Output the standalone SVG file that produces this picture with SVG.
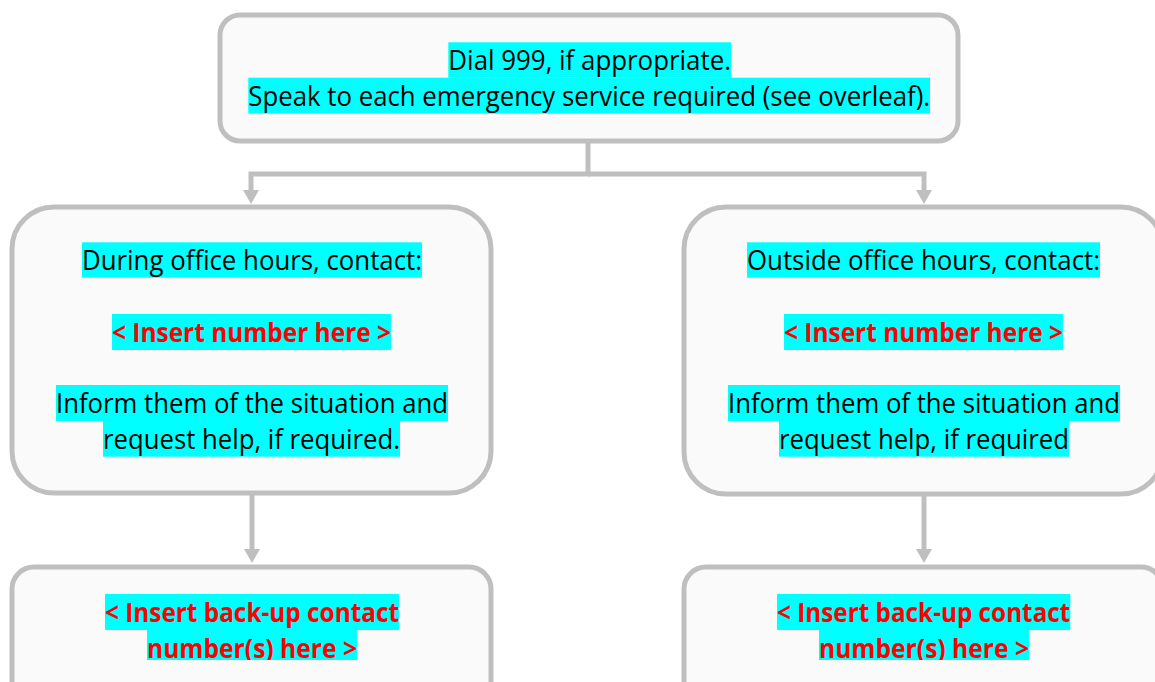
<svg xmlns="http://www.w3.org/2000/svg" width="1155" height="682" viewBox="0 0 1155 682">
<style>
.box{fill:#FAFAFA;stroke:#BFBFBF;stroke-width:5}
.hl{fill:#00FFFF}
.t{font-family:"Open Sans","Liberation Sans",sans-serif;font-size:27px;fill:#000;text-anchor:middle}
.r{font-family:"Open Sans","Liberation Sans",sans-serif;font-size:27px;font-weight:bold;fill:#FF0000;text-anchor:middle}
.conn{fill:none;stroke:#BFBFBF;stroke-width:5;stroke-linejoin:miter}
</style>
<defs>
<marker id="arr" viewBox="0 0 14 16" refX="2" refY="8" markerWidth="14" markerHeight="16" orient="auto" markerUnits="userSpaceOnUse">
<path d="M0,0 L14,8 L0,16 z" fill="#BFBFBF"/>
</marker>
<clipPath id="clipB"><rect x="0" y="0" width="1155" height="660"/></clipPath>
</defs>
<rect width="1155" height="682" fill="#FFFFFF"/>

<g id="connectors">
<path class="conn" d="M588,141 V174 H251 V192" marker-end="url(#arr)"/>
<path class="conn" d="M588,174 H924 V192" marker-end="url(#arr)"/>
<path class="conn" d="M252,493 V551" marker-end="url(#arr)"/>
<path class="conn" d="M924,494 V551" marker-end="url(#arr)"/>
</g>

<g id="top">
<rect class="box" x="220" y="15" width="738" height="126" rx="20" ry="20"/>
<rect class="hl" x="448.3" y="42.3" width="282.7" height="35.4"/>
<rect class="hl" x="248.3" y="77.7" width="681.7" height="36"/>
<text class="t" x="589.7" y="70.2" textLength="282.7" lengthAdjust="spacingAndGlyphs">Dial 999, if appropriate.</text>
<text class="t" x="589.2" y="105.6" textLength="681.7" lengthAdjust="spacingAndGlyphs">Speak to each emergency service required (see overleaf).</text>
</g>

<g id="during">
<rect class="box" x="12" y="207" width="479" height="286" rx="42" ry="42"/>
<rect class="hl" x="82" y="242.3" width="340" height="35.4"/>
<rect class="hl" x="112" y="314" width="279" height="36"/>
<rect class="hl" x="56" y="385" width="392" height="36"/>
<rect class="hl" x="103" y="421" width="297" height="35.7"/>
<text class="t" x="252" y="270.2" textLength="340" lengthAdjust="spacingAndGlyphs">During office hours, contact:</text>
<text class="r" x="251.5" y="341.9" textLength="279" lengthAdjust="spacingAndGlyphs">&lt; Insert number here &gt;</text>
<text class="t" x="252" y="412.9" textLength="392" lengthAdjust="spacingAndGlyphs">Inform them of the situation and</text>
<text class="t" x="251.5" y="448.9" textLength="297" lengthAdjust="spacingAndGlyphs">request help, if required.</text>
</g>

<g id="outside">
<rect class="box" x="684" y="207" width="479" height="287" rx="42" ry="42"/>
<rect class="hl" x="747" y="242.3" width="353" height="35.4"/>
<rect class="hl" x="784" y="314" width="279" height="36"/>
<rect class="hl" x="728" y="385" width="392" height="36"/>
<rect class="hl" x="779" y="421" width="290" height="35.7"/>
<text class="t" x="923.5" y="270.2" textLength="353" lengthAdjust="spacingAndGlyphs">Outside office hours, contact:</text>
<text class="r" x="923.5" y="341.9" textLength="279" lengthAdjust="spacingAndGlyphs">&lt; Insert number here &gt;</text>
<text class="t" x="924" y="412.9" textLength="392" lengthAdjust="spacingAndGlyphs">Inform them of the situation and</text>
<text class="t" x="924" y="448.9" textLength="290" lengthAdjust="spacingAndGlyphs">request help, if required</text>
</g>

<g id="backup-left">
<rect class="box" x="12" y="567" width="479" height="150" rx="22" ry="22"/>
<g clip-path="url(#clipB)">
<rect class="hl" x="105" y="594" width="294" height="36"/>
<rect class="hl" x="147" y="630" width="210" height="36"/>
<text class="r" x="252" y="621.9" textLength="294" lengthAdjust="spacingAndGlyphs">&lt; Insert back-up contact</text>
<text class="r" x="252" y="657.9" textLength="210" lengthAdjust="spacingAndGlyphs">number(s) here &gt;</text>
</g>
</g>

<g id="backup-right">
<rect class="box" x="684" y="567" width="479" height="150" rx="22" ry="22"/>
<g clip-path="url(#clipB)">
<rect class="hl" x="777" y="594" width="293.3" height="36"/>
<rect class="hl" x="819" y="630" width="210" height="36"/>
<text class="r" x="923.7" y="621.9" textLength="293.3" lengthAdjust="spacingAndGlyphs">&lt; Insert back-up contact</text>
<text class="r" x="924" y="657.9" textLength="210" lengthAdjust="spacingAndGlyphs">number(s) here &gt;</text>
</g>
</g>
</svg>
